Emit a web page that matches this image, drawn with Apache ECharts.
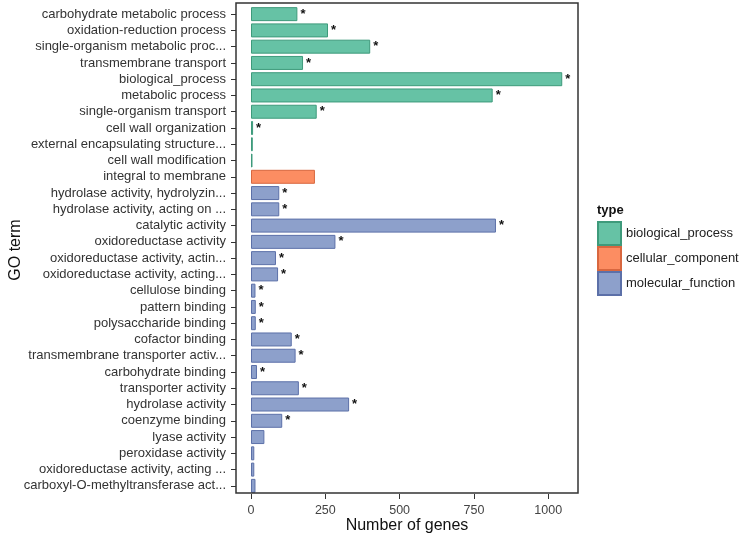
<!DOCTYPE html>
<html>
<head>
<meta charset="utf-8">
<script src="https://cdn.jsdelivr.net/npm/echarts@6/dist/echarts.min.js"></script>
<style>
html,body{margin:0;padding:0;background:#fff;}
#chart{width:745px;height:539px;}
</style>
</head>
<body>
<div id="chart"></div>
<script>
const categories = [
  'carbohydrate metabolic process',
  'oxidation-reduction process',
  'single-organism metabolic proc...',
  'transmembrane transport',
  'biological_process',
  'metabolic process',
  'single-organism transport',
  'cell wall organization',
  'external encapsulating structure...',
  'cell wall modification',
  'integral to membrane',
  'hydrolase activity, hydrolyzin...',
  'hydrolase activity, acting on ...',
  'catalytic activity',
  'oxidoreductase activity',
  'oxidoreductase activity, actin...',
  'oxidoreductase activity, acting...',
  'cellulose binding',
  'pattern binding',
  'polysaccharide binding',
  'cofactor binding',
  'transmembrane transporter activ...',
  'carbohydrate binding',
  'transporter activity',
  'hydrolase activity',
  'coenzyme binding',
  'lyase activity',
  'peroxidase activity',
  'oxidoreductase activity, acting ...',
  'carboxyl-O-methyltransferase act...'
];
const geneCounts = [156, 259, 401, 175, 1047, 813, 221, 7, 6, 5, 215, 95, 95, 824, 284, 84, 91, 15, 16, 16, 137, 150, 20, 161, 330, 105, 45, 11, 11, 15];
const goType = ['biological_process','biological_process','biological_process','biological_process','biological_process','biological_process','biological_process','biological_process','biological_process','biological_process',
  'cellular_component',
  'molecular_function','molecular_function','molecular_function','molecular_function','molecular_function','molecular_function','molecular_function','molecular_function','molecular_function','molecular_function','molecular_function','molecular_function','molecular_function','molecular_function','molecular_function','molecular_function','molecular_function','molecular_function','molecular_function'];
const significant = [1,1,1,1,1,1,1,1,0,0,0,1,1,1,1,1,1,1,1,1,1,1,1,1,1,1,0,0,0,0];
const typeNames = ['biological_process','cellular_component','molecular_function'];
const xTicks = [0, 250, 500, 750, 1000];

const fills = {biological_process:'#66c2a5', cellular_component:'#fc8d62', molecular_function:'#8da0cb'};
const borders = {biological_process:'#3e9a7b', cellular_component:'#d8673f', molecular_function:'#5c70a8'};
const FONT = 'Liberation Sans, Arial, Helvetica, sans-serif';

const series = typeNames.map(t => ({
  name: t,
  type: 'bar',
  barGap: '-100%',
  barCategoryGap: '14%',
  itemStyle: {color: fills[t], borderColor: borders[t], borderWidth: 1},
  data: geneCounts.map((v, i) => goType[i] === t ? v : '-'),
  label: {
    show: true,
    position: 'right',
    distance: 3,
    color: '#111',
    fontSize: 13,
    fontWeight: 'bold',
    fontFamily: FONT,
    formatter: p => significant[p.dataIndex] ? '*' : ''
  }
}));

const chart = echarts.init(document.getElementById('chart'));
chart.setOption({
  backgroundColor: '#fff',
  animation: false,
  textStyle: {fontFamily: FONT},
  title: {
    text: 'type', left: 597, top: 204, padding: 0,
    textStyle: {fontSize: 13, fontWeight: 'bold', color: '#111', fontFamily: FONT}
  },
  legend: {
    orient: 'vertical', left: 597, top: 221, padding: 0,
    itemWidth: 23, itemHeight: 23, itemGap: 0,
    icon: 'rect',
    data: typeNames,
    textStyle: {fontSize: 13, color: '#222', fontFamily: FONT}
  },
  grid: {left: 236, right: 167, top: 6, bottom: 45, containLabel: false, outerBoundsMode: 'none'},
  xAxis: {
    type: 'value',
    min: -50.5, max: 1100,
    name: 'Number of genes',
    nameLocation: 'middle',
    nameGap: 24,
    nameMoveOverlap: false,
    nameTextStyle: {fontSize: 16, color: '#111', fontFamily: FONT},
    splitLine: {show: false},
    axisLine: {show: false, onZero: false},
    axisTick: {show: true, customValues: xTicks, length: 5, lineStyle: {color: '#333'}},
    axisLabel: {customValues: xTicks, fontSize: 12.5, color: '#444', margin: 10, fontFamily: FONT,
      formatter: v => String(v)}
  },
  yAxis: {
    type: 'category',
    inverse: true,
    data: categories,
    name: 'GO term',
    nameLocation: 'middle',
    nameRotate: 90,
    nameGap: 212,
    nameMoveOverlap: false,
    nameTextStyle: {fontSize: 16, color: '#111', fontFamily: FONT},
    axisLine: {show: false, onZero: false},
    axisTick: {show: true, alignWithLabel: true, length: 5, lineStyle: {color: '#333'}},
    axisLabel: {fontSize: 13, color: '#333', margin: 10, fontFamily: FONT, interval: 0}
  },
  graphic: [{
    type: 'rect',
    shape: {x: 236, y: 3, width: 342, height: 490},
    style: {fill: null, stroke: '#333', lineWidth: 1.5},
    silent: true,
    z: 10
  }],
  series: series
});
</script>
</body>
</html>
